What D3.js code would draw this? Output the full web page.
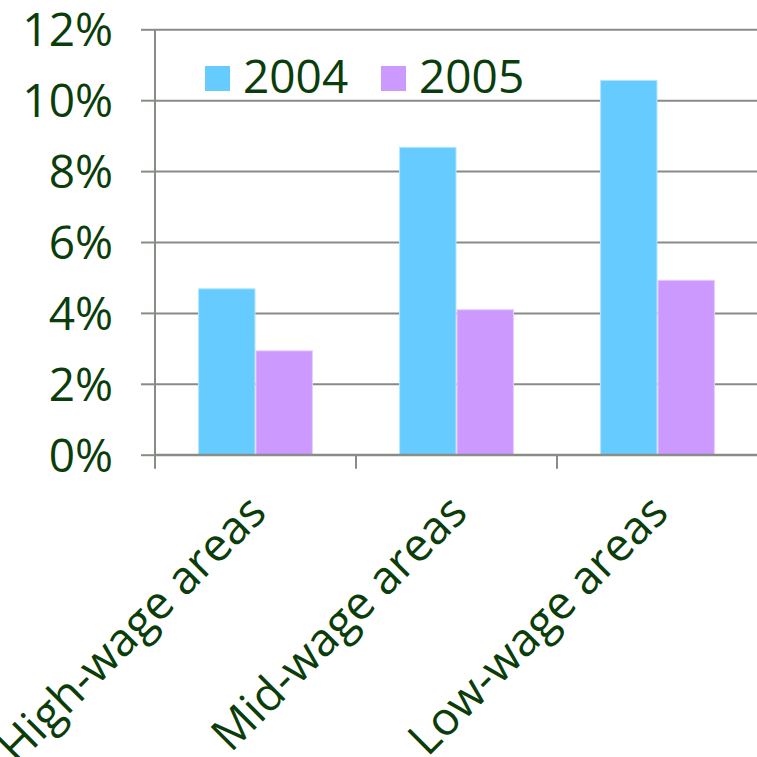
<!DOCTYPE html>
<html>
<head>
<meta charset="utf-8">
<script src="https://cdn.jsdelivr.net/npm/d3@7"></script>
<style>
  html, body { margin: 0; padding: 0; background: #fff; }
  svg { display: block; }
  text { font-family: "Open Sans", "Noto Sans", sans-serif; fill: #0b3d0b; }
</style>
</head>
<body>
<svg id="chart" width="757" height="757"></svg>
<script>
// Share of workers, by area wage level and year (percent)
const categories = ["High-wage areas", "Mid-wage areas", "Low-wage areas"];
const seriesNames = ["2004", "2005"];
const values2004 = [4.68, 8.67, 10.56];
const values2005 = [2.93, 4.09, 4.92];
const yTicks = [0, 2, 4, 6, 8, 10, 12];
const seriesColors = ["#66ccff", "#cc99ff"];
const seriesStroke = ["#b3e6ff", "#e6ccff"];

const seriesValues = [values2004, values2005];
const rows = categories.map((c, i) => ({
  category: c,
  values: seriesNames.map((s, j) => ({ series: s, idx: j, value: seriesValues[j][i] }))
}));

const svg = d3.select("#chart");
const plotLeft = 155, plotRight = 758, plotTop = 29.3, plotBottom = 454.7;
const gridColor = "#878c87";

const x = d3.scaleBand().domain(categories).range([plotLeft, plotRight]).paddingInner(0).paddingOuter(0);
const inner = d3.scaleBand().domain(seriesNames)
  .range([0, x.bandwidth()]).paddingInner(0).paddingOuter(0.75);
const y = d3.scaleLinear().domain([0, 12]).range([plotBottom, plotTop]);

// Horizontal gridlines with outward tick marks
const yAxis = d3.axisLeft(y).tickValues(yTicks).tickSize(14).tickPadding(28)
  .tickFormat(d => d + "%");
const yg = svg.append("g").attr("transform", `translate(${plotLeft},0)`).call(yAxis);
yg.select(".domain").remove();
yg.selectAll(".tick line").attr("stroke", gridColor).attr("stroke-width", 2);
yg.selectAll(".tick").append("line")
  .attr("x1", 0).attr("x2", plotRight - plotLeft)
  .attr("stroke", gridColor).attr("stroke-width", 2);
yg.selectAll(".tick text")
  .style("font-size", "46px").attr("dy", "0.36em").attr("fill", "#0b3d0b");

// Bars
const groups = svg.append("g").selectAll("g").data(rows).join("g")
  .attr("transform", d => `translate(${x(d.category)},0)`);
groups.selectAll("rect").data(d => d.values).join("rect")
  .attr("x", d => inner(d.series) + 0.5)
  .attr("width", inner.bandwidth() - 1)
  .attr("y", d => y(d.value))
  .attr("height", d => y(0) - y(d.value))
  .attr("fill", d => seriesColors[d.idx])
  .attr("stroke", d => seriesStroke[d.idx])
  .attr("stroke-width", 1);

// Vertical axis line
svg.append("line")
  .attr("x1", plotLeft).attr("x2", plotLeft).attr("y1", plotTop).attr("y2", plotBottom + 14)
  .attr("stroke", gridColor).attr("stroke-width", 2);

// Category axis: baseline, boundary ticks, rotated labels
svg.append("line")
  .attr("x1", plotLeft).attr("x2", plotRight).attr("y1", plotBottom).attr("y2", plotBottom)
  .attr("stroke", gridColor).attr("stroke-width", 2);
svg.append("g").selectAll("line").data(categories.slice(1)).join("line")
  .attr("x1", d => x(d)).attr("x2", d => x(d))
  .attr("y1", plotBottom).attr("y2", plotBottom + 14)
  .attr("stroke", gridColor).attr("stroke-width", 2);
svg.append("g").selectAll("text").data(categories).join("text")
  .attr("transform", d => `translate(${x(d) + x.bandwidth() / 2 + 13},${plotBottom + 60}) rotate(-45)`)
  .attr("text-anchor", "end")
  .style("font-size", "46px")
  .text(d => d);

// Legend
const legend = svg.append("g").selectAll("g").data(seriesNames).join("g")
  .attr("transform", (d, i) => `translate(${205 + i * 176},66)`);
legend.append("rect").attr("width", 25).attr("height", 25)
  .attr("fill", (d, i) => seriesColors[i]);
legend.append("text").attr("x", 38).attr("y", 27)
  .style("font-size", "46px").text(d => d);
</script>
</body>
</html>
